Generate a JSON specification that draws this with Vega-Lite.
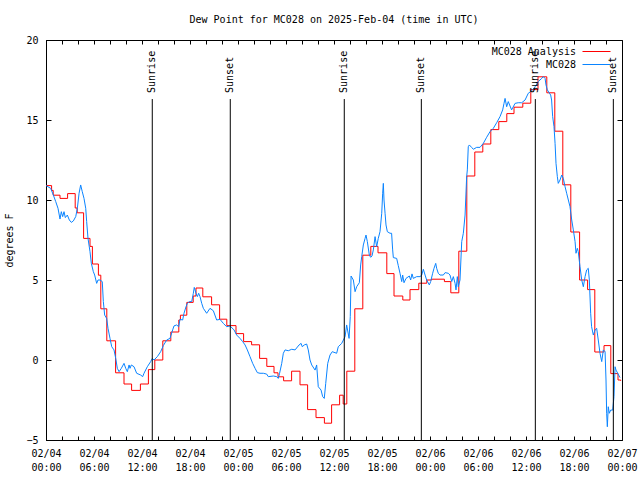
{
  "$schema": "https://vega.github.io/schema/vega-lite/v6.json",
  "width": 576,
  "height": 400,
  "autosize": "none",
  "padding": {"left": 46, "top": 40, "right": 18, "bottom": 40},
  "background": "white",
  "title": {"text": "Dew Point for MC028 on 2025-Feb-04 (time in UTC)", "font": "DejaVu Sans Mono", "fontSize": 10, "fontWeight": "normal", "color": "black", "anchor": "middle", "offset": 10},
  "config": {
    "view": {"stroke": "black", "strokeWidth": 1},
    "axis": {"labelFont": "DejaVu Sans Mono", "labelFontSize": 10, "labelColor": "black", "titleFont": "DejaVu Sans Mono", "titleFontSize": 10, "titleFontWeight": "normal", "titleColor": "black", "grid": false, "domainColor": "black", "tickColor": "black", "tickWidth": 1, "domainWidth": 1},
    "legend": {"labelFont": "DejaVu Sans Mono", "labelFontSize": 10, "labelColor": "black"}
  },
  "datasets": {
    "sun": [
      {"event": "Sunrise", "time": "2025-02-04T13:17:00Z"},
      {"event": "Sunset", "time": "2025-02-04T23:02:00Z"},
      {"event": "Sunrise", "time": "2025-02-05T13:17:00Z"},
      {"event": "Sunset", "time": "2025-02-05T22:55:00Z"},
      {"event": "Sunrise", "time": "2025-02-06T13:10:00Z"},
      {"event": "Sunset", "time": "2025-02-06T22:55:00Z"}
    ],
    "analysis": [
      {"series": "MC028 Analysis", "time": "2025-02-04T00:00:00Z", "dewpoint": 10.9},
      {"series": "MC028 Analysis", "time": "2025-02-04T00:42:00Z", "dewpoint": 10.6},
      {"series": "MC028 Analysis", "time": "2025-02-04T00:54:00Z", "dewpoint": 10.3},
      {"series": "MC028 Analysis", "time": "2025-02-04T01:45:00Z", "dewpoint": 10.1},
      {"series": "MC028 Analysis", "time": "2025-02-04T02:42:00Z", "dewpoint": 10.4},
      {"series": "MC028 Analysis", "time": "2025-02-04T03:39:00Z", "dewpoint": 9.5},
      {"series": "MC028 Analysis", "time": "2025-02-04T03:54:00Z", "dewpoint": 9.2},
      {"series": "MC028 Analysis", "time": "2025-02-04T04:42:00Z", "dewpoint": 7.6},
      {"series": "MC028 Analysis", "time": "2025-02-04T05:30:00Z", "dewpoint": 7.1},
      {"series": "MC028 Analysis", "time": "2025-02-04T05:48:00Z", "dewpoint": 6.0},
      {"series": "MC028 Analysis", "time": "2025-02-04T06:33:00Z", "dewpoint": 5.3},
      {"series": "MC028 Analysis", "time": "2025-02-04T06:51:00Z", "dewpoint": 3.2},
      {"series": "MC028 Analysis", "time": "2025-02-04T07:36:00Z", "dewpoint": 1.2},
      {"series": "MC028 Analysis", "time": "2025-02-04T08:42:00Z", "dewpoint": -0.8},
      {"series": "MC028 Analysis", "time": "2025-02-04T09:45:00Z", "dewpoint": -1.5},
      {"series": "MC028 Analysis", "time": "2025-02-04T10:42:00Z", "dewpoint": -1.9},
      {"series": "MC028 Analysis", "time": "2025-02-04T11:48:00Z", "dewpoint": -1.5},
      {"series": "MC028 Analysis", "time": "2025-02-04T12:48:00Z", "dewpoint": -0.6},
      {"series": "MC028 Analysis", "time": "2025-02-04T13:36:00Z", "dewpoint": 0.0},
      {"series": "MC028 Analysis", "time": "2025-02-04T14:36:00Z", "dewpoint": 1.2},
      {"series": "MC028 Analysis", "time": "2025-02-04T15:36:00Z", "dewpoint": 1.75},
      {"series": "MC028 Analysis", "time": "2025-02-04T16:36:00Z", "dewpoint": 2.5},
      {"series": "MC028 Analysis", "time": "2025-02-04T16:48:00Z", "dewpoint": 2.8},
      {"series": "MC028 Analysis", "time": "2025-02-04T17:36:00Z", "dewpoint": 3.6},
      {"series": "MC028 Analysis", "time": "2025-02-04T18:24:00Z", "dewpoint": 4.0},
      {"series": "MC028 Analysis", "time": "2025-02-04T18:45:00Z", "dewpoint": 4.5},
      {"series": "MC028 Analysis", "time": "2025-02-04T19:36:00Z", "dewpoint": 3.95},
      {"series": "MC028 Analysis", "time": "2025-02-04T20:42:00Z", "dewpoint": 3.45},
      {"series": "MC028 Analysis", "time": "2025-02-04T21:42:00Z", "dewpoint": 2.55},
      {"series": "MC028 Analysis", "time": "2025-02-04T22:36:00Z", "dewpoint": 2.15},
      {"series": "MC028 Analysis", "time": "2025-02-04T23:45:00Z", "dewpoint": 1.65},
      {"series": "MC028 Analysis", "time": "2025-02-05T00:42:00Z", "dewpoint": 1.15},
      {"series": "MC028 Analysis", "time": "2025-02-05T01:42:00Z", "dewpoint": 0.95},
      {"series": "MC028 Analysis", "time": "2025-02-05T02:42:00Z", "dewpoint": 0.1},
      {"series": "MC028 Analysis", "time": "2025-02-05T03:36:00Z", "dewpoint": -0.4},
      {"series": "MC028 Analysis", "time": "2025-02-05T04:30:00Z", "dewpoint": -0.8},
      {"series": "MC028 Analysis", "time": "2025-02-05T05:00:00Z", "dewpoint": -1.05},
      {"series": "MC028 Analysis", "time": "2025-02-05T05:42:00Z", "dewpoint": -1.3},
      {"series": "MC028 Analysis", "time": "2025-02-05T06:42:00Z", "dewpoint": -0.7},
      {"series": "MC028 Analysis", "time": "2025-02-05T07:45:00Z", "dewpoint": -1.55},
      {"series": "MC028 Analysis", "time": "2025-02-05T08:42:00Z", "dewpoint": -3.1},
      {"series": "MC028 Analysis", "time": "2025-02-05T09:45:00Z", "dewpoint": -3.6},
      {"series": "MC028 Analysis", "time": "2025-02-05T10:48:00Z", "dewpoint": -3.95},
      {"series": "MC028 Analysis", "time": "2025-02-05T11:42:00Z", "dewpoint": -2.8},
      {"series": "MC028 Analysis", "time": "2025-02-05T12:42:00Z", "dewpoint": -2.2},
      {"series": "MC028 Analysis", "time": "2025-02-05T13:09:00Z", "dewpoint": -2.75},
      {"series": "MC028 Analysis", "time": "2025-02-05T13:36:00Z", "dewpoint": -0.7},
      {"series": "MC028 Analysis", "time": "2025-02-05T14:36:00Z", "dewpoint": 3.2},
      {"series": "MC028 Analysis", "time": "2025-02-05T15:36:00Z", "dewpoint": 6.55},
      {"series": "MC028 Analysis", "time": "2025-02-05T16:36:00Z", "dewpoint": 7.1},
      {"series": "MC028 Analysis", "time": "2025-02-05T17:30:00Z", "dewpoint": 6.7},
      {"series": "MC028 Analysis", "time": "2025-02-05T18:36:00Z", "dewpoint": 5.4},
      {"series": "MC028 Analysis", "time": "2025-02-05T19:30:00Z", "dewpoint": 4.0},
      {"series": "MC028 Analysis", "time": "2025-02-05T20:36:00Z", "dewpoint": 3.75},
      {"series": "MC028 Analysis", "time": "2025-02-05T21:30:00Z", "dewpoint": 4.4},
      {"series": "MC028 Analysis", "time": "2025-02-05T22:36:00Z", "dewpoint": 4.8},
      {"series": "MC028 Analysis", "time": "2025-02-05T23:36:00Z", "dewpoint": 5.0},
      {"series": "MC028 Analysis", "time": "2025-02-06T00:12:00Z", "dewpoint": 5.05},
      {"series": "MC028 Analysis", "time": "2025-02-06T01:48:00Z", "dewpoint": 4.9},
      {"series": "MC028 Analysis", "time": "2025-02-06T02:36:00Z", "dewpoint": 4.2},
      {"series": "MC028 Analysis", "time": "2025-02-06T03:36:00Z", "dewpoint": 6.8},
      {"series": "MC028 Analysis", "time": "2025-02-06T04:36:00Z", "dewpoint": 11.5},
      {"series": "MC028 Analysis", "time": "2025-02-06T05:36:00Z", "dewpoint": 13.0},
      {"series": "MC028 Analysis", "time": "2025-02-06T06:36:00Z", "dewpoint": 13.5},
      {"series": "MC028 Analysis", "time": "2025-02-06T07:36:00Z", "dewpoint": 14.4},
      {"series": "MC028 Analysis", "time": "2025-02-06T08:36:00Z", "dewpoint": 14.9},
      {"series": "MC028 Analysis", "time": "2025-02-06T09:36:00Z", "dewpoint": 15.4},
      {"series": "MC028 Analysis", "time": "2025-02-06T10:30:00Z", "dewpoint": 15.8},
      {"series": "MC028 Analysis", "time": "2025-02-06T11:36:00Z", "dewpoint": 16.05},
      {"series": "MC028 Analysis", "time": "2025-02-06T12:36:00Z", "dewpoint": 16.9},
      {"series": "MC028 Analysis", "time": "2025-02-06T13:30:00Z", "dewpoint": 17.7},
      {"series": "MC028 Analysis", "time": "2025-02-06T14:36:00Z", "dewpoint": 16.7},
      {"series": "MC028 Analysis", "time": "2025-02-06T15:36:00Z", "dewpoint": 14.3},
      {"series": "MC028 Analysis", "time": "2025-02-06T16:36:00Z", "dewpoint": 10.95},
      {"series": "MC028 Analysis", "time": "2025-02-06T17:36:00Z", "dewpoint": 8.0},
      {"series": "MC028 Analysis", "time": "2025-02-06T18:42:00Z", "dewpoint": 5.0},
      {"series": "MC028 Analysis", "time": "2025-02-06T19:42:00Z", "dewpoint": 4.4},
      {"series": "MC028 Analysis", "time": "2025-02-06T20:36:00Z", "dewpoint": 0.5},
      {"series": "MC028 Analysis", "time": "2025-02-06T21:45:00Z", "dewpoint": 0.9},
      {"series": "MC028 Analysis", "time": "2025-02-06T22:36:00Z", "dewpoint": -0.85},
      {"series": "MC028 Analysis", "time": "2025-02-06T23:30:00Z", "dewpoint": -1.25},
      {"series": "MC028 Analysis", "time": "2025-02-06T23:50:00Z", "dewpoint": -1.3}
    ],
    "observed": [
      {"series": "MC028", "time": "2025-02-04T00:00:00Z", "dewpoint": 10.9},
      {"series": "MC028", "time": "2025-02-04T00:35:00Z", "dewpoint": 10.73},
      {"series": "MC028", "time": "2025-02-04T00:55:00Z", "dewpoint": 10.31},
      {"series": "MC028", "time": "2025-02-04T01:13:00Z", "dewpoint": 9.9},
      {"series": "MC028", "time": "2025-02-04T01:30:00Z", "dewpoint": 9.48},
      {"series": "MC028", "time": "2025-02-04T01:45:00Z", "dewpoint": 8.81},
      {"series": "MC028", "time": "2025-02-04T01:55:00Z", "dewpoint": 9.27},
      {"series": "MC028", "time": "2025-02-04T02:05:00Z", "dewpoint": 8.96},
      {"series": "MC028", "time": "2025-02-04T02:15:00Z", "dewpoint": 9.27},
      {"series": "MC028", "time": "2025-02-04T02:25:00Z", "dewpoint": 8.9},
      {"series": "MC028", "time": "2025-02-04T02:40:00Z", "dewpoint": 9.06},
      {"series": "MC028", "time": "2025-02-04T02:55:00Z", "dewpoint": 8.75},
      {"series": "MC028", "time": "2025-02-04T03:10:00Z", "dewpoint": 8.6},
      {"series": "MC028", "time": "2025-02-04T03:25:00Z", "dewpoint": 8.69},
      {"series": "MC028", "time": "2025-02-04T03:43:00Z", "dewpoint": 8.96},
      {"series": "MC028", "time": "2025-02-04T03:55:00Z", "dewpoint": 9.48},
      {"series": "MC028", "time": "2025-02-04T04:08:00Z", "dewpoint": 10.42},
      {"series": "MC028", "time": "2025-02-04T04:20:00Z", "dewpoint": 10.94},
      {"series": "MC028", "time": "2025-02-04T04:32:00Z", "dewpoint": 10.52},
      {"series": "MC028", "time": "2025-02-04T04:45:00Z", "dewpoint": 10.1},
      {"series": "MC028", "time": "2025-02-04T04:58:00Z", "dewpoint": 9.48},
      {"series": "MC028", "time": "2025-02-04T05:05:00Z", "dewpoint": 8.65},
      {"series": "MC028", "time": "2025-02-04T05:15:00Z", "dewpoint": 7.6},
      {"series": "MC028", "time": "2025-02-04T05:30:00Z", "dewpoint": 6.77},
      {"series": "MC028", "time": "2025-02-04T05:40:00Z", "dewpoint": 6.04},
      {"series": "MC028", "time": "2025-02-04T05:55:00Z", "dewpoint": 5.52},
      {"series": "MC028", "time": "2025-02-04T06:05:00Z", "dewpoint": 5.31},
      {"series": "MC028", "time": "2025-02-04T06:20:00Z", "dewpoint": 4.79},
      {"series": "MC028", "time": "2025-02-04T06:30:00Z", "dewpoint": 5.0},
      {"series": "MC028", "time": "2025-02-04T06:45:00Z", "dewpoint": 5.0},
      {"series": "MC028", "time": "2025-02-04T07:02:00Z", "dewpoint": 4.9},
      {"series": "MC028", "time": "2025-02-04T07:10:00Z", "dewpoint": 3.65},
      {"series": "MC028", "time": "2025-02-04T07:20:00Z", "dewpoint": 2.81},
      {"series": "MC028", "time": "2025-02-04T07:35:00Z", "dewpoint": 2.6},
      {"series": "MC028", "time": "2025-02-04T07:45:00Z", "dewpoint": 1.98},
      {"series": "MC028", "time": "2025-02-04T08:00:00Z", "dewpoint": 1.35},
      {"series": "MC028", "time": "2025-02-04T08:13:00Z", "dewpoint": 0.83},
      {"series": "MC028", "time": "2025-02-04T08:30:00Z", "dewpoint": 0.63},
      {"series": "MC028", "time": "2025-02-04T08:43:00Z", "dewpoint": 0.1},
      {"series": "MC028", "time": "2025-02-04T08:55:00Z", "dewpoint": -0.52},
      {"series": "MC028", "time": "2025-02-04T09:08:00Z", "dewpoint": -0.73},
      {"series": "MC028", "time": "2025-02-04T09:25:00Z", "dewpoint": -0.52},
      {"series": "MC028", "time": "2025-02-04T09:45:00Z", "dewpoint": -0.21},
      {"series": "MC028", "time": "2025-02-04T09:58:00Z", "dewpoint": -0.52},
      {"series": "MC028", "time": "2025-02-04T10:10:00Z", "dewpoint": -0.73},
      {"series": "MC028", "time": "2025-02-04T10:23:00Z", "dewpoint": -0.31},
      {"series": "MC028", "time": "2025-02-04T10:30:00Z", "dewpoint": -0.52},
      {"series": "MC028", "time": "2025-02-04T10:40:00Z", "dewpoint": -0.31},
      {"series": "MC028", "time": "2025-02-04T11:00:00Z", "dewpoint": -0.42},
      {"series": "MC028", "time": "2025-02-04T11:20:00Z", "dewpoint": -0.83},
      {"series": "MC028", "time": "2025-02-04T11:50:00Z", "dewpoint": -0.94},
      {"series": "MC028", "time": "2025-02-04T12:05:00Z", "dewpoint": -1.04},
      {"series": "MC028", "time": "2025-02-04T12:15:00Z", "dewpoint": -0.83},
      {"series": "MC028", "time": "2025-02-04T12:40:00Z", "dewpoint": -0.42},
      {"series": "MC028", "time": "2025-02-04T13:05:00Z", "dewpoint": -0.1},
      {"series": "MC028", "time": "2025-02-04T13:17:00Z", "dewpoint": 0.1},
      {"series": "MC028", "time": "2025-02-04T13:30:00Z", "dewpoint": 0.0},
      {"series": "MC028", "time": "2025-02-04T13:55:00Z", "dewpoint": 0.21},
      {"series": "MC028", "time": "2025-02-04T14:20:00Z", "dewpoint": 0.52},
      {"series": "MC028", "time": "2025-02-04T14:40:00Z", "dewpoint": 0.9},
      {"series": "MC028", "time": "2025-02-04T15:05:00Z", "dewpoint": 1.25},
      {"series": "MC028", "time": "2025-02-04T15:30:00Z", "dewpoint": 1.35},
      {"series": "MC028", "time": "2025-02-04T15:50:00Z", "dewpoint": 1.88},
      {"series": "MC028", "time": "2025-02-04T16:00:00Z", "dewpoint": 2.13},
      {"series": "MC028", "time": "2025-02-04T16:20:00Z", "dewpoint": 2.19},
      {"series": "MC028", "time": "2025-02-04T16:35:00Z", "dewpoint": 2.08},
      {"series": "MC028", "time": "2025-02-04T16:45:00Z", "dewpoint": 2.54},
      {"series": "MC028", "time": "2025-02-04T17:05:00Z", "dewpoint": 2.5},
      {"series": "MC028", "time": "2025-02-04T17:15:00Z", "dewpoint": 2.92},
      {"series": "MC028", "time": "2025-02-04T17:30:00Z", "dewpoint": 3.33},
      {"series": "MC028", "time": "2025-02-04T17:40:00Z", "dewpoint": 3.54},
      {"series": "MC028", "time": "2025-02-04T17:55:00Z", "dewpoint": 3.65},
      {"series": "MC028", "time": "2025-02-04T18:13:00Z", "dewpoint": 3.65},
      {"series": "MC028", "time": "2025-02-04T18:25:00Z", "dewpoint": 4.17},
      {"series": "MC028", "time": "2025-02-04T18:32:00Z", "dewpoint": 4.54},
      {"series": "MC028", "time": "2025-02-04T18:45:00Z", "dewpoint": 4.17},
      {"series": "MC028", "time": "2025-02-04T18:55:00Z", "dewpoint": 3.96},
      {"series": "MC028", "time": "2025-02-04T19:05:00Z", "dewpoint": 4.17},
      {"series": "MC028", "time": "2025-02-04T19:15:00Z", "dewpoint": 3.96},
      {"series": "MC028", "time": "2025-02-04T19:28:00Z", "dewpoint": 3.54},
      {"series": "MC028", "time": "2025-02-04T19:40:00Z", "dewpoint": 3.23},
      {"series": "MC028", "time": "2025-02-04T20:05:00Z", "dewpoint": 2.92},
      {"series": "MC028", "time": "2025-02-04T20:30:00Z", "dewpoint": 3.23},
      {"series": "MC028", "time": "2025-02-04T20:55:00Z", "dewpoint": 3.08},
      {"series": "MC028", "time": "2025-02-04T21:20:00Z", "dewpoint": 2.5},
      {"series": "MC028", "time": "2025-02-04T21:45:00Z", "dewpoint": 2.54},
      {"series": "MC028", "time": "2025-02-04T22:10:00Z", "dewpoint": 2.29},
      {"series": "MC028", "time": "2025-02-04T22:35:00Z", "dewpoint": 2.08},
      {"series": "MC028", "time": "2025-02-04T23:00:00Z", "dewpoint": 2.13},
      {"series": "MC028", "time": "2025-02-04T23:30:00Z", "dewpoint": 1.88},
      {"series": "MC028", "time": "2025-02-04T23:50:00Z", "dewpoint": 1.56},
      {"series": "MC028", "time": "2025-02-05T00:15:00Z", "dewpoint": 1.35},
      {"series": "MC028", "time": "2025-02-05T00:35:00Z", "dewpoint": 1.15},
      {"series": "MC028", "time": "2025-02-05T00:53:00Z", "dewpoint": 0.94},
      {"series": "MC028", "time": "2025-02-05T01:10:00Z", "dewpoint": 0.63},
      {"series": "MC028", "time": "2025-02-05T01:30:00Z", "dewpoint": 0.21},
      {"series": "MC028", "time": "2025-02-05T01:50:00Z", "dewpoint": -0.21},
      {"series": "MC028", "time": "2025-02-05T02:08:00Z", "dewpoint": -0.52},
      {"series": "MC028", "time": "2025-02-05T02:25:00Z", "dewpoint": -0.79},
      {"series": "MC028", "time": "2025-02-05T02:45:00Z", "dewpoint": -0.83},
      {"series": "MC028", "time": "2025-02-05T03:10:00Z", "dewpoint": -0.83},
      {"series": "MC028", "time": "2025-02-05T03:35:00Z", "dewpoint": -0.88},
      {"series": "MC028", "time": "2025-02-05T03:47:00Z", "dewpoint": -1.04},
      {"series": "MC028", "time": "2025-02-05T04:25:00Z", "dewpoint": -1.0},
      {"series": "MC028", "time": "2025-02-05T04:50:00Z", "dewpoint": -1.04},
      {"series": "MC028", "time": "2025-02-05T05:02:00Z", "dewpoint": -1.15},
      {"series": "MC028", "time": "2025-02-05T05:12:00Z", "dewpoint": -0.83},
      {"series": "MC028", "time": "2025-02-05T05:28:00Z", "dewpoint": -0.21},
      {"series": "MC028", "time": "2025-02-05T05:40:00Z", "dewpoint": 0.42},
      {"series": "MC028", "time": "2025-02-05T05:53:00Z", "dewpoint": 0.63},
      {"series": "MC028", "time": "2025-02-05T06:17:00Z", "dewpoint": 0.58},
      {"series": "MC028", "time": "2025-02-05T06:43:00Z", "dewpoint": 0.67},
      {"series": "MC028", "time": "2025-02-05T07:08:00Z", "dewpoint": 0.63},
      {"series": "MC028", "time": "2025-02-05T07:38:00Z", "dewpoint": 0.94},
      {"series": "MC028", "time": "2025-02-05T07:53:00Z", "dewpoint": 1.04},
      {"series": "MC028", "time": "2025-02-05T08:02:00Z", "dewpoint": 0.83},
      {"series": "MC028", "time": "2025-02-05T08:17:00Z", "dewpoint": 0.94},
      {"series": "MC028", "time": "2025-02-05T08:35:00Z", "dewpoint": 1.0},
      {"series": "MC028", "time": "2025-02-05T08:47:00Z", "dewpoint": 0.63},
      {"series": "MC028", "time": "2025-02-05T09:00:00Z", "dewpoint": 0.0},
      {"series": "MC028", "time": "2025-02-05T09:13:00Z", "dewpoint": -0.31},
      {"series": "MC028", "time": "2025-02-05T09:38:00Z", "dewpoint": -0.63},
      {"series": "MC028", "time": "2025-02-05T09:50:00Z", "dewpoint": -0.31},
      {"series": "MC028", "time": "2025-02-05T10:02:00Z", "dewpoint": -1.67},
      {"series": "MC028", "time": "2025-02-05T10:23:00Z", "dewpoint": -1.88},
      {"series": "MC028", "time": "2025-02-05T10:35:00Z", "dewpoint": -2.29},
      {"series": "MC028", "time": "2025-02-05T10:47:00Z", "dewpoint": -2.4},
      {"series": "MC028", "time": "2025-02-05T10:58:00Z", "dewpoint": -1.46},
      {"series": "MC028", "time": "2025-02-05T11:13:00Z", "dewpoint": -0.21},
      {"series": "MC028", "time": "2025-02-05T11:30:00Z", "dewpoint": 0.31},
      {"series": "MC028", "time": "2025-02-05T11:47:00Z", "dewpoint": 0.52},
      {"series": "MC028", "time": "2025-02-05T12:20:00Z", "dewpoint": 0.42},
      {"series": "MC028", "time": "2025-02-05T12:32:00Z", "dewpoint": 0.83},
      {"series": "MC028", "time": "2025-02-05T12:58:00Z", "dewpoint": 1.04},
      {"series": "MC028", "time": "2025-02-05T13:23:00Z", "dewpoint": 1.46},
      {"series": "MC028", "time": "2025-02-05T13:35:00Z", "dewpoint": 2.19},
      {"series": "MC028", "time": "2025-02-05T13:53:00Z", "dewpoint": 1.35},
      {"series": "MC028", "time": "2025-02-05T14:02:00Z", "dewpoint": 2.71},
      {"series": "MC028", "time": "2025-02-05T14:08:00Z", "dewpoint": 5.25},
      {"series": "MC028", "time": "2025-02-05T14:25:00Z", "dewpoint": 5.0},
      {"series": "MC028", "time": "2025-02-05T14:38:00Z", "dewpoint": 4.27},
      {"series": "MC028", "time": "2025-02-05T14:50:00Z", "dewpoint": 4.58},
      {"series": "MC028", "time": "2025-02-05T15:10:00Z", "dewpoint": 4.83},
      {"series": "MC028", "time": "2025-02-05T15:20:00Z", "dewpoint": 5.94},
      {"series": "MC028", "time": "2025-02-05T15:28:00Z", "dewpoint": 6.46},
      {"series": "MC028", "time": "2025-02-05T15:40:00Z", "dewpoint": 7.19},
      {"series": "MC028", "time": "2025-02-05T15:53:00Z", "dewpoint": 7.6},
      {"series": "MC028", "time": "2025-02-05T16:00:00Z", "dewpoint": 7.81},
      {"series": "MC028", "time": "2025-02-05T16:10:00Z", "dewpoint": 7.4},
      {"series": "MC028", "time": "2025-02-05T16:25:00Z", "dewpoint": 6.56},
      {"series": "MC028", "time": "2025-02-05T16:35:00Z", "dewpoint": 6.42},
      {"series": "MC028", "time": "2025-02-05T16:45:00Z", "dewpoint": 6.5},
      {"series": "MC028", "time": "2025-02-05T16:55:00Z", "dewpoint": 6.88},
      {"series": "MC028", "time": "2025-02-05T17:08:00Z", "dewpoint": 7.71},
      {"series": "MC028", "time": "2025-02-05T17:20:00Z", "dewpoint": 7.08},
      {"series": "MC028", "time": "2025-02-05T17:32:00Z", "dewpoint": 7.6},
      {"series": "MC028", "time": "2025-02-05T17:45:00Z", "dewpoint": 8.02},
      {"series": "MC028", "time": "2025-02-05T17:58:00Z", "dewpoint": 9.17},
      {"series": "MC028", "time": "2025-02-05T18:05:00Z", "dewpoint": 10.42},
      {"series": "MC028", "time": "2025-02-05T18:10:00Z", "dewpoint": 11.04},
      {"series": "MC028", "time": "2025-02-05T18:15:00Z", "dewpoint": 10.0},
      {"series": "MC028", "time": "2025-02-05T18:23:00Z", "dewpoint": 9.17},
      {"series": "MC028", "time": "2025-02-05T18:30:00Z", "dewpoint": 8.44},
      {"series": "MC028", "time": "2025-02-05T18:40:00Z", "dewpoint": 8.02},
      {"series": "MC028", "time": "2025-02-05T19:00:00Z", "dewpoint": 7.92},
      {"series": "MC028", "time": "2025-02-05T19:12:00Z", "dewpoint": 7.92},
      {"series": "MC028", "time": "2025-02-05T19:20:00Z", "dewpoint": 6.88},
      {"series": "MC028", "time": "2025-02-05T19:25:00Z", "dewpoint": 6.4},
      {"series": "MC028", "time": "2025-02-05T19:50:00Z", "dewpoint": 6.35},
      {"series": "MC028", "time": "2025-02-05T20:02:00Z", "dewpoint": 5.9},
      {"series": "MC028", "time": "2025-02-05T20:15:00Z", "dewpoint": 5.42},
      {"series": "MC028", "time": "2025-02-05T20:28:00Z", "dewpoint": 4.9},
      {"series": "MC028", "time": "2025-02-05T20:35:00Z", "dewpoint": 5.31},
      {"series": "MC028", "time": "2025-02-05T20:45:00Z", "dewpoint": 4.83},
      {"series": "MC028", "time": "2025-02-05T21:00:00Z", "dewpoint": 5.1},
      {"series": "MC028", "time": "2025-02-05T21:25:00Z", "dewpoint": 5.25},
      {"series": "MC028", "time": "2025-02-05T21:35:00Z", "dewpoint": 5.0},
      {"series": "MC028", "time": "2025-02-05T21:45:00Z", "dewpoint": 5.38},
      {"series": "MC028", "time": "2025-02-05T21:55:00Z", "dewpoint": 5.1},
      {"series": "MC028", "time": "2025-02-05T22:20:00Z", "dewpoint": 5.21},
      {"series": "MC028", "time": "2025-02-05T22:45:00Z", "dewpoint": 5.21},
      {"series": "MC028", "time": "2025-02-05T22:58:00Z", "dewpoint": 5.31},
      {"series": "MC028", "time": "2025-02-05T23:10:00Z", "dewpoint": 5.67},
      {"series": "MC028", "time": "2025-02-05T23:23:00Z", "dewpoint": 5.31},
      {"series": "MC028", "time": "2025-02-05T23:35:00Z", "dewpoint": 5.0},
      {"series": "MC028", "time": "2025-02-05T23:55:00Z", "dewpoint": 4.69},
      {"series": "MC028", "time": "2025-02-06T00:05:00Z", "dewpoint": 4.9},
      {"series": "MC028", "time": "2025-02-06T00:20:00Z", "dewpoint": 5.42},
      {"series": "MC028", "time": "2025-02-06T00:30:00Z", "dewpoint": 5.73},
      {"series": "MC028", "time": "2025-02-06T00:43:00Z", "dewpoint": 6.04},
      {"series": "MC028", "time": "2025-02-06T00:50:00Z", "dewpoint": 5.73},
      {"series": "MC028", "time": "2025-02-06T01:02:00Z", "dewpoint": 5.42},
      {"series": "MC028", "time": "2025-02-06T01:15:00Z", "dewpoint": 5.31},
      {"series": "MC028", "time": "2025-02-06T01:40:00Z", "dewpoint": 5.31},
      {"series": "MC028", "time": "2025-02-06T01:53:00Z", "dewpoint": 5.46},
      {"series": "MC028", "time": "2025-02-06T02:17:00Z", "dewpoint": 5.42},
      {"series": "MC028", "time": "2025-02-06T02:30:00Z", "dewpoint": 5.31},
      {"series": "MC028", "time": "2025-02-06T02:43:00Z", "dewpoint": 4.9},
      {"series": "MC028", "time": "2025-02-06T02:55:00Z", "dewpoint": 5.21},
      {"series": "MC028", "time": "2025-02-06T03:08:00Z", "dewpoint": 4.79},
      {"series": "MC028", "time": "2025-02-06T03:15:00Z", "dewpoint": 4.38},
      {"series": "MC028", "time": "2025-02-06T03:25:00Z", "dewpoint": 5.21},
      {"series": "MC028", "time": "2025-02-06T03:32:00Z", "dewpoint": 4.58},
      {"series": "MC028", "time": "2025-02-06T03:45:00Z", "dewpoint": 5.0},
      {"series": "MC028", "time": "2025-02-06T03:58:00Z", "dewpoint": 7.4},
      {"series": "MC028", "time": "2025-02-06T04:10:00Z", "dewpoint": 7.92},
      {"series": "MC028", "time": "2025-02-06T04:23:00Z", "dewpoint": 9.06},
      {"series": "MC028", "time": "2025-02-06T04:35:00Z", "dewpoint": 11.46},
      {"series": "MC028", "time": "2025-02-06T04:40:00Z", "dewpoint": 11.88},
      {"series": "MC028", "time": "2025-02-06T04:47:00Z", "dewpoint": 13.33},
      {"series": "MC028", "time": "2025-02-06T04:55:00Z", "dewpoint": 13.44},
      {"series": "MC028", "time": "2025-02-06T05:12:00Z", "dewpoint": 13.29},
      {"series": "MC028", "time": "2025-02-06T05:25:00Z", "dewpoint": 13.17},
      {"series": "MC028", "time": "2025-02-06T05:50:00Z", "dewpoint": 13.29},
      {"series": "MC028", "time": "2025-02-06T06:15:00Z", "dewpoint": 13.29},
      {"series": "MC028", "time": "2025-02-06T06:40:00Z", "dewpoint": 13.54},
      {"series": "MC028", "time": "2025-02-06T07:05:00Z", "dewpoint": 13.92},
      {"series": "MC028", "time": "2025-02-06T07:30:00Z", "dewpoint": 14.27},
      {"series": "MC028", "time": "2025-02-06T07:55:00Z", "dewpoint": 14.48},
      {"series": "MC028", "time": "2025-02-06T08:20:00Z", "dewpoint": 14.83},
      {"series": "MC028", "time": "2025-02-06T08:45:00Z", "dewpoint": 15.21},
      {"series": "MC028", "time": "2025-02-06T09:05:00Z", "dewpoint": 15.63},
      {"series": "MC028", "time": "2025-02-06T09:15:00Z", "dewpoint": 16.04},
      {"series": "MC028", "time": "2025-02-06T09:23:00Z", "dewpoint": 16.35},
      {"series": "MC028", "time": "2025-02-06T09:35:00Z", "dewpoint": 15.83},
      {"series": "MC028", "time": "2025-02-06T09:47:00Z", "dewpoint": 16.15},
      {"series": "MC028", "time": "2025-02-06T10:12:00Z", "dewpoint": 15.63},
      {"series": "MC028", "time": "2025-02-06T10:38:00Z", "dewpoint": 16.04},
      {"series": "MC028", "time": "2025-02-06T11:02:00Z", "dewpoint": 16.08},
      {"series": "MC028", "time": "2025-02-06T11:28:00Z", "dewpoint": 16.08},
      {"series": "MC028", "time": "2025-02-06T11:53:00Z", "dewpoint": 16.25},
      {"series": "MC028", "time": "2025-02-06T12:17:00Z", "dewpoint": 16.67},
      {"series": "MC028", "time": "2025-02-06T12:43:00Z", "dewpoint": 16.83},
      {"series": "MC028", "time": "2025-02-06T13:08:00Z", "dewpoint": 17.08},
      {"series": "MC028", "time": "2025-02-06T13:32:00Z", "dewpoint": 17.4},
      {"series": "MC028", "time": "2025-02-06T13:58:00Z", "dewpoint": 17.6},
      {"series": "MC028", "time": "2025-02-06T14:10:00Z", "dewpoint": 17.71},
      {"series": "MC028", "time": "2025-02-06T14:23:00Z", "dewpoint": 17.6},
      {"series": "MC028", "time": "2025-02-06T14:30:00Z", "dewpoint": 17.19},
      {"series": "MC028", "time": "2025-02-06T14:40:00Z", "dewpoint": 16.88},
      {"series": "MC028", "time": "2025-02-06T15:05:00Z", "dewpoint": 16.56},
      {"series": "MC028", "time": "2025-02-06T15:12:00Z", "dewpoint": 16.25},
      {"series": "MC028", "time": "2025-02-06T15:20:00Z", "dewpoint": 15.21},
      {"series": "MC028", "time": "2025-02-06T15:30:00Z", "dewpoint": 14.58},
      {"series": "MC028", "time": "2025-02-06T15:38:00Z", "dewpoint": 13.54},
      {"series": "MC028", "time": "2025-02-06T15:45:00Z", "dewpoint": 12.29},
      {"series": "MC028", "time": "2025-02-06T15:55:00Z", "dewpoint": 11.46},
      {"series": "MC028", "time": "2025-02-06T16:02:00Z", "dewpoint": 11.04},
      {"series": "MC028", "time": "2025-02-06T16:15:00Z", "dewpoint": 11.25},
      {"series": "MC028", "time": "2025-02-06T16:28:00Z", "dewpoint": 11.56},
      {"series": "MC028", "time": "2025-02-06T16:40:00Z", "dewpoint": 11.35},
      {"series": "MC028", "time": "2025-02-06T16:53:00Z", "dewpoint": 10.83},
      {"series": "MC028", "time": "2025-02-06T17:05:00Z", "dewpoint": 10.42},
      {"series": "MC028", "time": "2025-02-06T17:30:00Z", "dewpoint": 9.58},
      {"series": "MC028", "time": "2025-02-06T17:43:00Z", "dewpoint": 8.75},
      {"series": "MC028", "time": "2025-02-06T17:55:00Z", "dewpoint": 8.13},
      {"series": "MC028", "time": "2025-02-06T18:08:00Z", "dewpoint": 7.4},
      {"series": "MC028", "time": "2025-02-06T18:15:00Z", "dewpoint": 6.67},
      {"series": "MC028", "time": "2025-02-06T18:25:00Z", "dewpoint": 6.98},
      {"series": "MC028", "time": "2025-02-06T18:32:00Z", "dewpoint": 6.77},
      {"series": "MC028", "time": "2025-02-06T18:45:00Z", "dewpoint": 5.83},
      {"series": "MC028", "time": "2025-02-06T18:58:00Z", "dewpoint": 5.0},
      {"series": "MC028", "time": "2025-02-06T19:10:00Z", "dewpoint": 4.58},
      {"series": "MC028", "time": "2025-02-06T19:23:00Z", "dewpoint": 5.21},
      {"series": "MC028", "time": "2025-02-06T19:35:00Z", "dewpoint": 5.63},
      {"series": "MC028", "time": "2025-02-06T19:47:00Z", "dewpoint": 5.73},
      {"series": "MC028", "time": "2025-02-06T19:55:00Z", "dewpoint": 5.0},
      {"series": "MC028", "time": "2025-02-06T20:05:00Z", "dewpoint": 2.92},
      {"series": "MC028", "time": "2025-02-06T20:12:00Z", "dewpoint": 2.08},
      {"series": "MC028", "time": "2025-02-06T20:25:00Z", "dewpoint": 1.56},
      {"series": "MC028", "time": "2025-02-06T20:38:00Z", "dewpoint": 1.88},
      {"series": "MC028", "time": "2025-02-06T20:50:00Z", "dewpoint": 1.98},
      {"series": "MC028", "time": "2025-02-06T21:02:00Z", "dewpoint": 1.25},
      {"series": "MC028", "time": "2025-02-06T21:15:00Z", "dewpoint": 0.42},
      {"series": "MC028", "time": "2025-02-06T21:28:00Z", "dewpoint": -0.1},
      {"series": "MC028", "time": "2025-02-06T21:40:00Z", "dewpoint": 0.63},
      {"series": "MC028", "time": "2025-02-06T21:53:00Z", "dewpoint": 0.52},
      {"series": "MC028", "time": "2025-02-06T22:00:00Z", "dewpoint": -1.25},
      {"series": "MC028", "time": "2025-02-06T22:05:00Z", "dewpoint": -3.33},
      {"series": "MC028", "time": "2025-02-06T22:10:00Z", "dewpoint": -4.17},
      {"series": "MC028", "time": "2025-02-06T22:17:00Z", "dewpoint": -2.92},
      {"series": "MC028", "time": "2025-02-06T22:25:00Z", "dewpoint": -3.33},
      {"series": "MC028", "time": "2025-02-06T22:35:00Z", "dewpoint": -3.13},
      {"series": "MC028", "time": "2025-02-06T22:50:00Z", "dewpoint": -3.13},
      {"series": "MC028", "time": "2025-02-06T23:00:00Z", "dewpoint": -2.29},
      {"series": "MC028", "time": "2025-02-06T23:08:00Z", "dewpoint": -0.42},
      {"series": "MC028", "time": "2025-02-06T23:15:00Z", "dewpoint": -0.63},
      {"series": "MC028", "time": "2025-02-06T23:35:00Z", "dewpoint": -0.94},
      {"series": "MC028", "time": "2025-02-06T23:45:00Z", "dewpoint": -1.1}
    ]
  },
  "layer": [
    {
      "data": {"name": "analysis"},
      "mark": {"type": "line", "interpolate": "step-after", "strokeWidth": 1, "clip": true},
      "encoding": {
        "x": {"field": "time", "type": "temporal",
              "scale": {"type": "utc", "domain": [1738627200000, 1738886400000], "nice": false},
              "axis": {"orient": "bottom", "title": null, "tickSize": -4, "labelPadding": 12, "labelFlush": false, "labelOverlap": false, "labelLineHeight": 14, "labelBaseline": "top",
                       "values": [1738627200000, 1738634400000, 1738641600000, 1738648800000, 1738656000000, 1738663200000, 1738670400000, 1738677600000, 1738684800000, 1738692000000, 1738699200000, 1738706400000, 1738713600000, 1738720800000, 1738728000000, 1738735200000, 1738742400000, 1738749600000, 1738756800000, 1738764000000, 1738771200000, 1738778400000, 1738785600000, 1738792800000, 1738800000000, 1738807200000, 1738814400000, 1738821600000, 1738828800000, 1738836000000, 1738843200000, 1738850400000, 1738857600000, 1738864800000, 1738872000000, 1738879200000, 1738886400000],
                       "labelExpr": "utchours(datum.value) % 6 == 0 ? [utcFormat(datum.value, '%m/%d'), utcFormat(datum.value, '%H:%M')] : ''"}},
        "y": {"field": "dewpoint", "type": "quantitative",
              "scale": {"domain": [-5, 20], "nice": false, "zero": false},
              "axis": {"orient": "left", "title": "degrees F", "values": [-5, 0, 5, 10, 15, 20], "tickSize": -5, "labelPadding": 13, "titlePadding": 11}},
        "color": {"field": "series", "type": "nominal",
                  "scale": {"domain": ["MC028 Analysis", "MC028"], "range": ["#ff0000", "#0a84ff"]},
                  "legend": {"title": null, "orient": "none", "legendX": 545, "legendY": 6, "symbolType": "M-2.8,0H2.8", "symbolSize": 100, "symbolStrokeWidth": 1, "labelAlign": "right", "labelOffset": -26, "rowPadding": 2,
                             "encode": {"symbols": {"update": {"stroke": {"scale": "color", "field": "value"}, "strokeWidth": {"value": 1}}}}}}
      }
    },
    {
      "data": {"name": "observed"},
      "mark": {"type": "line", "strokeWidth": 1, "clip": true},
      "encoding": {
        "x": {"field": "time", "type": "temporal",
              "axis": {"orient": "top", "title": null, "labels": false, "domain": false, "tickSize": -4,
                       "values": [1738627200000, 1738634400000, 1738641600000, 1738648800000, 1738656000000, 1738663200000, 1738670400000, 1738677600000, 1738684800000, 1738692000000, 1738699200000, 1738706400000, 1738713600000, 1738720800000, 1738728000000, 1738735200000, 1738742400000, 1738749600000, 1738756800000, 1738764000000, 1738771200000, 1738778400000, 1738785600000, 1738792800000, 1738800000000, 1738807200000, 1738814400000, 1738821600000, 1738828800000, 1738836000000, 1738843200000, 1738850400000, 1738857600000, 1738864800000, 1738872000000, 1738879200000, 1738886400000]}},
        "y": {"field": "dewpoint", "type": "quantitative",
              "axis": {"orient": "right", "title": null, "labels": false, "domain": false, "values": [-5, 0, 5, 10, 15, 20], "tickSize": -5}},
        "color": {"field": "series", "type": "nominal"}
      }
    },
    {
      "data": {"name": "sun"},
      "mark": {"type": "rule", "color": "black", "strokeWidth": 1},
      "encoding": {
        "x": {"field": "time", "type": "temporal", "axis": null},
        "y": {"datum": 16.31, "type": "quantitative", "axis": null},
        "y2": {"datum": -5}
      }
    },
    {
      "data": {"name": "sun"},
      "mark": {"type": "text", "angle": 270, "align": "left", "baseline": "middle", "font": "DejaVu Sans Mono", "fontSize": 10, "color": "black"},
      "encoding": {
        "x": {"field": "time", "type": "temporal", "axis": null},
        "y": {"datum": 16.69, "type": "quantitative", "axis": null},
        "text": {"field": "event", "type": "nominal"}
      }
    }
  ]
}
